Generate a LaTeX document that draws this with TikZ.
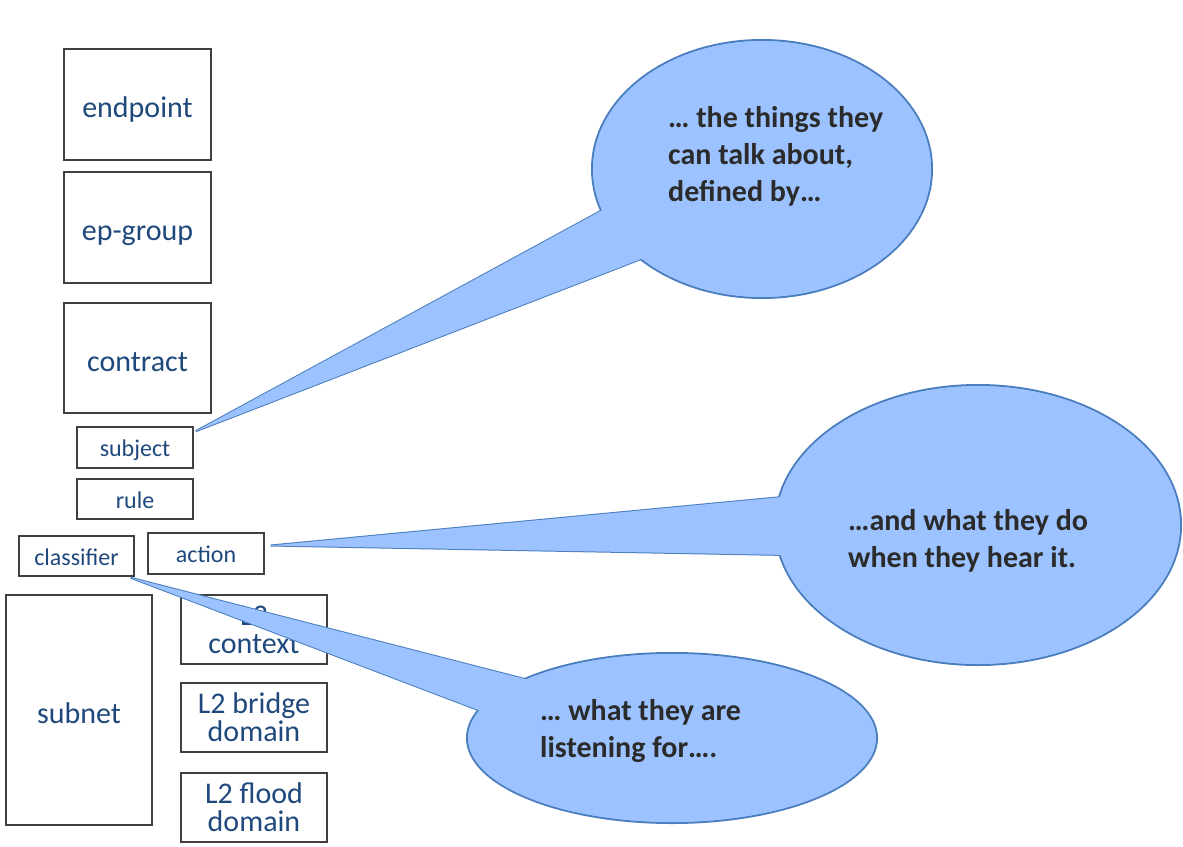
\documentclass[tikz,border=0pt]{standalone}
\usepackage{fontspec}
\setmainfont{Carlito}
\usetikzlibrary{shapes.geometric}
\definecolor{boxtext}{HTML}{1F497D}
\definecolor{calltext}{HTML}{2B2B2B}
\definecolor{cfill}{HTML}{9CC3FF}
\definecolor{cline}{HTML}{4A7EBF}
\tikzset{
  bigbox/.style={draw=black!75, line width=1.5pt, fill=white, inner sep=0pt,
    text=boxtext, align=center, font=\fontsize{30}{28}\selectfont},
  bigline/.style={bigbox, text height=28pt, text depth=2pt},
  smallbox/.style={draw=black!75, line width=1.5pt, fill=white, inner sep=0pt,
    text=boxtext, align=center, font=\fontsize{24}{26}\selectfont,
    text height=20pt, text depth=2pt},
  bubble/.style={ellipse, draw=cline, line width=2pt, fill=cfill,
    inner sep=0pt, outer sep=0pt},
  tail/.style={draw=cline, line width=2pt, fill=cfill, line join=miter},
  bubbletext/.style={text=calltext, align=left, inner sep=0pt, anchor=west,
    font=\fontsize{30}{37}\selectfont\bfseries},
}
\begin{document}
\begin{tikzpicture}[x=1pt, y=-1pt]
\useasboundingbox[fill=white] (0,0) rectangle (1183,846);

% object boxes
\node[bigline, minimum width=147pt, minimum height=111pt] (endpoint) at (137.5,104.5) {endpoint};
\node[bigline, minimum width=147pt, minimum height=111pt] (epgroup) at (137.5,227.5) {ep-group};
\node[bigline, minimum width=147pt, minimum height=110pt] (contract) at (137.5,358) {contract};
\node[smallbox, minimum width=116pt, minimum height=41pt] (subject) at (135,447.5) {subject};
\node[smallbox, minimum width=116pt, minimum height=40pt] (rule) at (135,499) {rule};
\node[smallbox, minimum width=115pt, minimum height=40pt] (classifier) at (76.5,556) {classifier};
\node[smallbox, minimum width=116pt, minimum height=41pt] (action) at (206,553.5) {action};
\node[bigline, minimum width=146pt, minimum height=230pt] (subnet) at (79,710) {subnet};
\node[bigbox, minimum width=146pt, minimum height=69pt] (l3ctx) at (254,629.5) {L3\\context};
\node[bigbox, minimum width=146pt, minimum height=69pt] (l2bd) at (254,717.5) {L2 bridge\\domain};
\node[bigbox, minimum width=146pt, minimum height=69pt] (l2fd) at (254,807.5) {L2 flood\\domain};

% tail tips and the points where the tails run into the bubbles
\coordinate (tipA) at ([shift={(2,5)}]subject.north east);
\coordinate (tipB) at ([shift={(6,-8)}]action.east);
\coordinate (tipC) at ([shift={(-4,1)}]classifier.south east);
\coordinate (a1) at (654,182);
\coordinate (a2) at (698,237);
\coordinate (b1) at (835,492);
\coordinate (b2) at (842,556);
\coordinate (c1) at (587,695);
\coordinate (c2) at (536,732);

% speech bubble: talk about
\draw[tail] (tipA) -- (a1) -- (a2) -- cycle;
\node[bubble, minimum width=340pt, minimum height=258pt] (talk) at (762,169) {};
\fill[cfill] (tipA) -- (a1) -- (a2) -- cycle;
\fill[cfill] (talk.center) ellipse [x radius=169pt, y radius=128pt];

% speech bubble: what they do
\draw[tail] (tipB) -- (b1) -- (b2) -- cycle;
\node[bubble, minimum width=406pt, minimum height=280pt] (do) at (978,525) {};
\fill[cfill] (tipB) -- (b1) -- (b2) -- cycle;
\fill[cfill] (do.center) ellipse [x radius=202pt, y radius=139pt];

% speech bubble: listening for
\draw[tail] (tipC) -- (c1) -- (c2) -- cycle;
\node[bubble, minimum width=410pt, minimum height=170pt] (listen) at (672,738) {};
\fill[cfill] (tipC) -- (c1) -- (c2) -- cycle;
\fill[cfill] (listen.center) ellipse [x radius=204pt, y radius=84pt];

% bubble texts
\node[bubbletext] (talktext) at (668,156) {… the things they\\can talk about,\\defined by…};
\node[bubbletext] (dotext) at (848,541) {…and what they do\\when they hear it.};
\node[bubbletext] (listentext) at (540,731) {… what they are\\listening for….};
\end{tikzpicture}
\end{document}
